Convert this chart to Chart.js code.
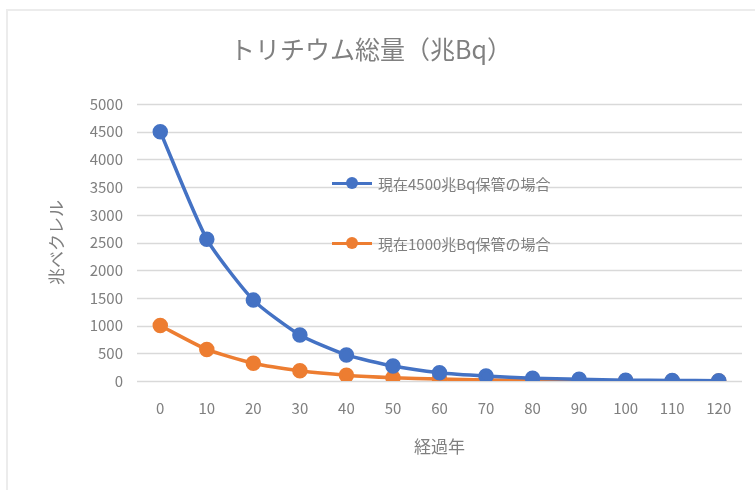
<!DOCTYPE html>
<html lang="ja">
<head>
<meta charset="utf-8">
<title>トリチウム総量</title>
<script src="https://cdn.jsdelivr.net/npm/chart.js@4.4.1/dist/chart.umd.min.js"></script>
<style>
    html, body { margin: 0; padding: 0; background: #fff; }
    #wrap { position: relative; width: 755px; height: 490px; }
    #frame {
        position: absolute; left: 6px; top: 9px; right: 0; bottom: 0;
        border-top: 2px solid #ececec; border-left: 2px solid #ececec;
    }
    #chart { position: absolute; left: 0; top: 0; }
    .legend-item {
        position: absolute; display: flex; align-items: center;
        font-family: 'Noto Sans CJK JP', sans-serif; font-size: 15px; color: #7f7f7f;
    }
    .legend-swatch { position: relative; width: 40px; height: 3px; margin-right: 6px; }
    .legend-swatch span {
        position: absolute; left: 14px; top: -5px; width: 12px; height: 12px; border-radius: 50%;
    }
</style>
</head>
<body>
<div id="wrap">
    <div id="frame"></div>
    <canvas id="chart" width="755" height="490"></canvas>
    <div id="legend"></div>
</div>
<script>
// elapsed years
const years = ['0', '10', '20', '30', '40', '50', '60', '70', '80', '90', '100', '110', '120'];
// remaining tritium (trillion Bq)
const stock4500 = [4500, 2560, 1460, 830, 470, 270, 150, 90, 50, 30, 15, 10, 5];
const stock1000 = [1000, 570, 320, 185, 105, 60, 35, 20, 10, 6, 4, 2, 1];
const seriesNames = ['現在4500兆Bq保管の場合', '現在1000兆Bq保管の場合'];
const yTicks = [0, 500, 1000, 1500, 2000, 2500, 3000, 3500, 4000, 4500, 5000];

const blue = '#4472c4';
const orange = '#ed7d31';
const textGray = '#7f7f7f';
const gridGray = '#d9d9d9';
const font = "'Noto Sans CJK JP', sans-serif";

function lineSet(label, data, color) {
    return {
        label: label,
        data: data,
        borderColor: color,
        backgroundColor: color,
        borderWidth: 3.5,
        pointRadius: 6,
        pointHoverRadius: 6,
        pointBackgroundColor: color,
        pointBorderColor: color,
        tension: 0.2
    };
}

// horizontal gridlines at every y tick, full plot width
const gridPlugin = {
    id: 'hGrid',
    beforeDatasetsDraw(chart) {
        const { ctx, chartArea } = chart;
        const y = chart.scales.y;
        ctx.save();
        ctx.strokeStyle = gridGray;
        ctx.lineWidth = 1.5;
        y.ticks.forEach(t => {
            const py = Math.round(y.getPixelForValue(t.value)) + 0.5;
            ctx.beginPath();
            ctx.moveTo(chartArea.left, py);
            ctx.lineTo(chartArea.right, py);
            ctx.stroke();
        });
        ctx.restore();
    }
};

const chart = new Chart(document.getElementById('chart'), {
    type: 'line',
    data: {
        labels: years,
        datasets: [
            lineSet(seriesNames[0], stock4500, blue),
            lineSet(seriesNames[1], stock1000, orange)
        ]
    },
    plugins: [gridPlugin],
    options: {
        responsive: false,
        animation: false,
        layout: { padding: { left: 0, right: 13, top: 0, bottom: 0 } },
        plugins: {
            legend: { display: false },
            tooltip: { enabled: false },
            title: {
                display: true,
                text: 'トリチウム総量（兆Bq）',
                color: '#808080',
                font: { family: font, size: 25, weight: 'normal' },
                padding: { top: 34, bottom: 40 }
            }
        },
        scales: {
            x: {
                offset: true,
                grid: { display: false, drawTicks: false },
                border: { display: false },
                ticks: { color: textGray, font: { family: font, size: 15 }, padding: 18 },
                title: {
                    display: true,
                    text: '経過年',
                    color: textGray,
                    font: { family: font, size: 17 },
                    padding: { top: 12, bottom: 33 }
                },
                afterFit: (scale) => { scale.height = 109; }
            },
            y: {
                min: yTicks[0],
                max: yTicks[yTicks.length - 1],
                grid: { display: false, drawTicks: false },
                border: { display: false },
                ticks: {
                    stepSize: yTicks[1] - yTicks[0],
                    color: textGray,
                    font: { family: font, size: 15 },
                    padding: 14,
                    callback: (v) => String(v)
                },
                title: {
                    display: true,
                    text: '兆ベクレル',
                    color: textGray,
                    font: { family: font, size: 17 },
                    padding: { top: 46 }
                },
                afterFit: (scale) => { scale.width = 137; }
            }
        }
    }
});

// legend sits inside the plot area, built from the datasets
const legendBox = document.getElementById('legend');
const legendTops = [183, 243];
chart.data.datasets.forEach((ds, i) => {
    const item = document.createElement('div');
    item.className = 'legend-item';
    item.style.left = '332px';
    item.style.top = (legendTops[i] - 11) + 'px';
    item.style.height = '22px';
    item.innerHTML = `<div class="legend-swatch" style="background:${ds.borderColor}">` +
        `<span style="background:${ds.borderColor}"></span></div>${ds.label}`;
    legendBox.appendChild(item);
});
</script>
</body>
</html>
